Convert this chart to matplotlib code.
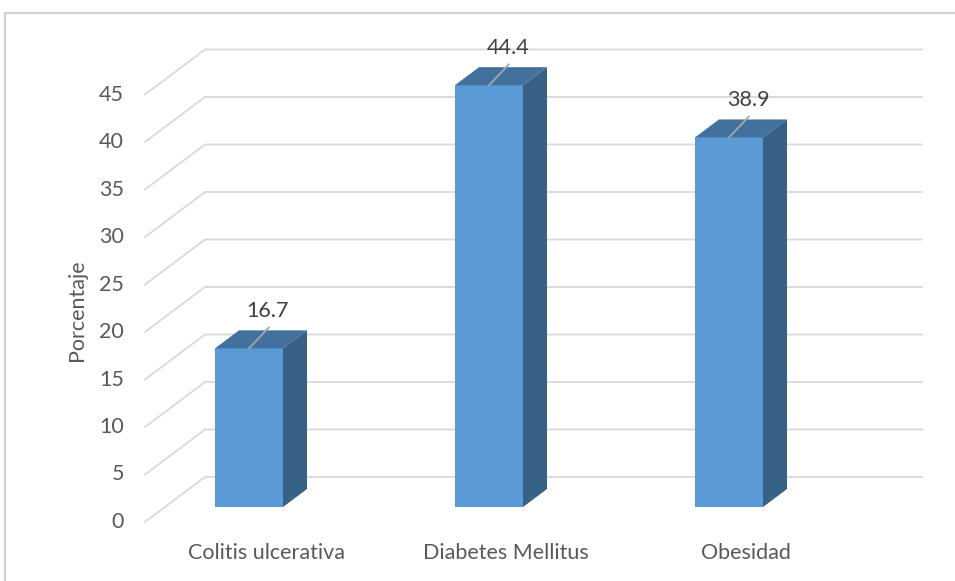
import numpy as np
import matplotlib.pyplot as plt
from matplotlib.patches import Polygon, Rectangle
from matplotlib.lines import Line2D

categorias = ["Colitis ulcerativa", "Diabetes Mellitus", "Obesidad"]
porcentaje = [16.7, 44.4, 38.9]
ticks = np.arange(0, 50, 5)

plt.rcParams['font.family'] = ['Lato', 'DejaVu Sans']
TXT = '#595959'
GRID = '#d9d9d9'
FRONT, TOP, SIDE = '#5b9bd5', '#41719c', '#386187'
FS = 15.5

# layout in pixels, turned into data units below
W, H = 955, 581
CAT_PX, VAL_PX = 240.0, 9.5          # px per category / per percent
X0_PX, Y0_PX = 249, 507              # where (cat 0, value 0) sits on the bar front plane
DX, DY = 60 / CAT_PX, 45 / VAL_PX    # one depth unit = 60 px right, 45 px up


def proj(x, v, d):
    return x + d * DX, v + d * DY


fig = plt.figure(figsize=(W / 100, H / 100), dpi=100)
ax = fig.add_axes([0, 0, 1, 1])
ax.set_xlim(-X0_PX / CAT_PX, (W - X0_PX) / CAT_PX)
ax.set_ylim(-(H - Y0_PX) / VAL_PX, Y0_PX / VAL_PX)
ax.axis('off')

# walls: side wall at x_wall, back wall at d_back
x_wall, x_right = -0.35, 2.6375
d_front, d_back = -1 / 3, 2 / 3
for t in ticks:
    p0 = proj(x_wall, t, d_front)
    p1 = proj(x_wall, t, d_back)
    p2 = proj(x_right, t, d_back)
    ax.plot([p0[0], p1[0], p2[0]], [p0[1], p1[1], p2[1]], color=GRID, lw=1.3,
            solid_joinstyle='miter', zorder=1)
    ax.annotate(f"{t}", xy=p0, xytext=(-21, 0), textcoords='offset pixels',
                ha='right', va='center', fontsize=FS, color=TXT)

# 3D columns
bw, bd = 34 / CAT_PX, 0.4
for i, v in enumerate(porcentaje):
    ax.add_patch(Rectangle((i - bw, 0), 2 * bw, v, facecolor=FRONT, edgecolor='none', zorder=3))
    top = [proj(i - bw, v, 0), proj(i + bw, v, 0), proj(i + bw, v, bd), proj(i - bw, v, bd)]
    side = [proj(i + bw, 0, 0), proj(i + bw, v, 0), proj(i + bw, v, bd), proj(i + bw, 0, bd)]
    ax.add_patch(Polygon(top, closed=True, facecolor=TOP, edgecolor='none', zorder=3))
    ax.add_patch(Polygon(side, closed=True, facecolor=SIDE, edgecolor='none', zorder=3))
    # leader line + value label
    ax.annotate('', xy=(i, v), xytext=(20, 21), textcoords='offset pixels',
                arrowprops=dict(arrowstyle='-', color='#a6a6a6', lw=1.3,
                                shrinkA=0, shrinkB=0), zorder=4)
    ax.annotate(f"{v}", xy=(i, v), xytext=(19, 37), textcoords='offset pixels',
                ha='center', va='center', fontsize=FS, color='#404040', zorder=4)
    ax.text(i + 17 / CAT_PX, -46 / VAL_PX, categorias[i], ha='center', va='center',
            fontsize=FS, color=TXT)

ax.text(-172 / CAT_PX, 197 / VAL_PX, "Porcentaje", rotation=90, ha='center', va='center',
        fontsize=FS, color=TXT)

# chart area border
bx, by = 5 / W, 1 - 13 / H
fig.add_artist(Line2D([bx, 1], [by, by], transform=fig.transFigure, color='#d0d0d0', lw=1.5))
fig.add_artist(Line2D([bx, bx], [by, 0], transform=fig.transFigure, color='#d0d0d0', lw=1.5))

fig.savefig("out.png", dpi=100)
